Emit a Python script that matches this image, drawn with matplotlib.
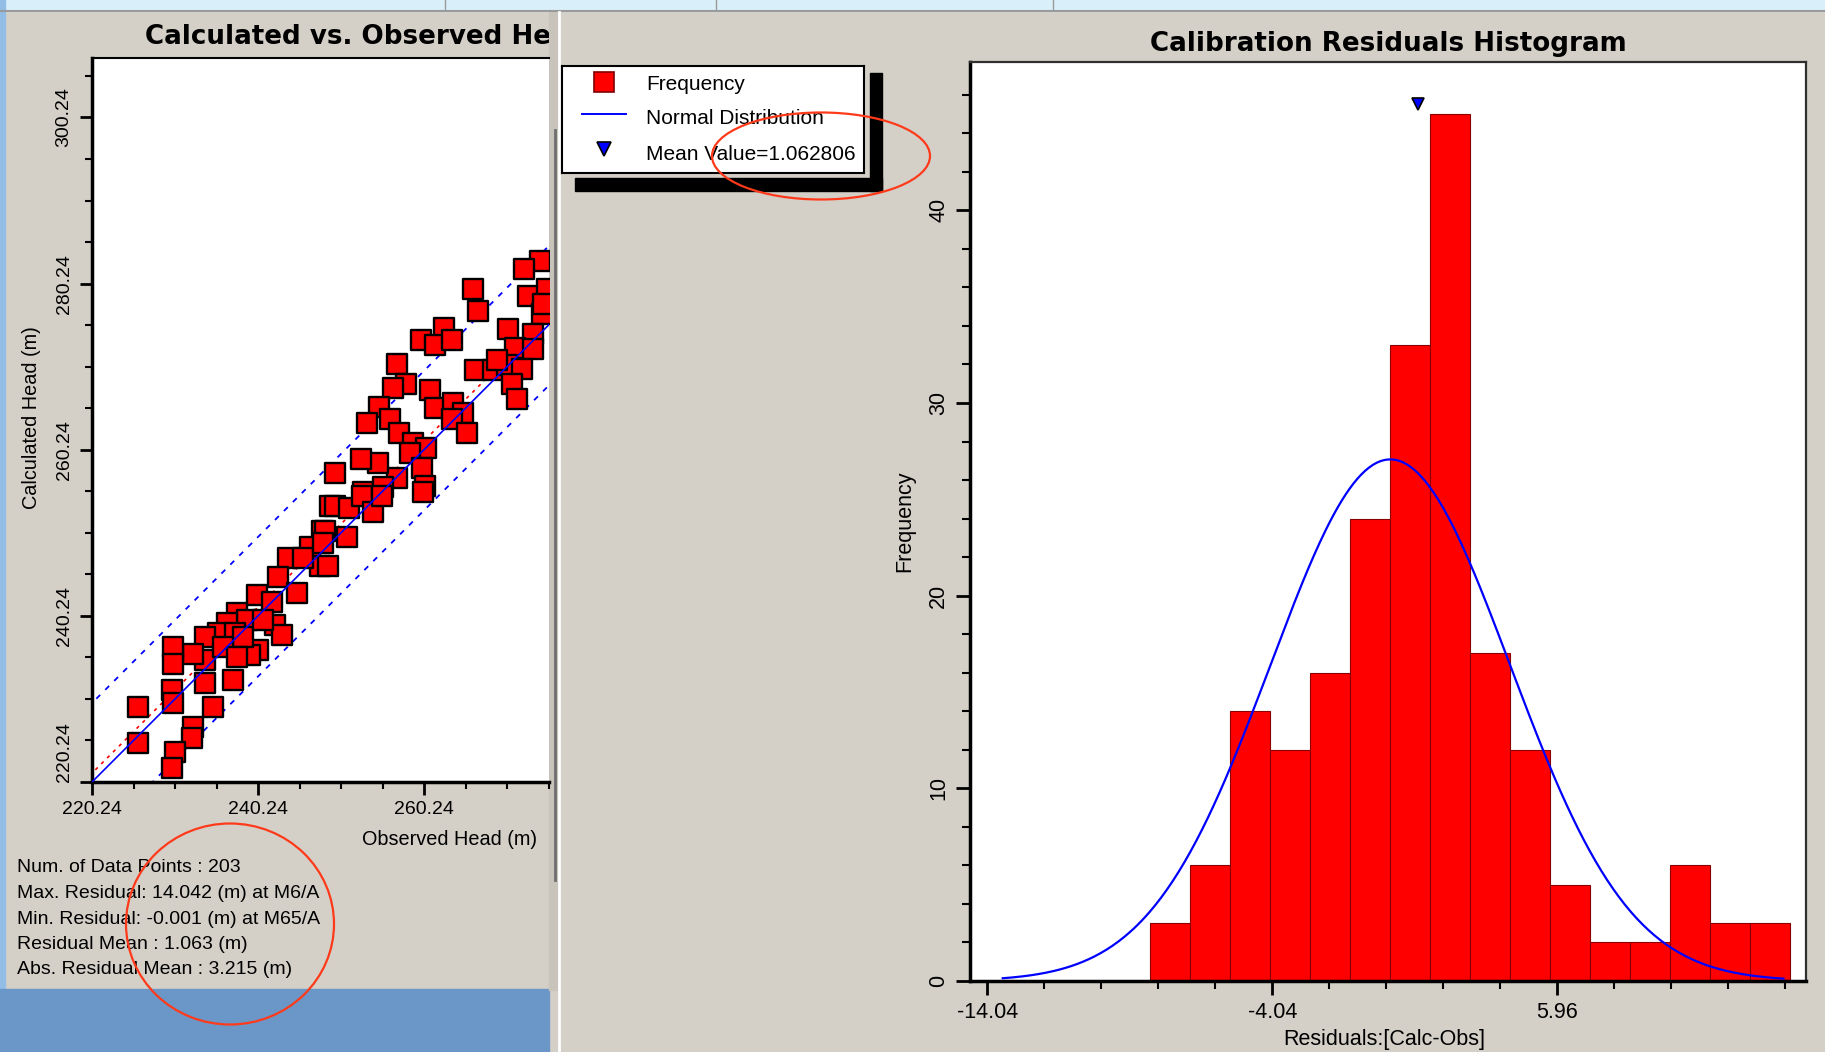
import numpy as np
import matplotlib
matplotlib.use("Agg")
import matplotlib.pyplot as plt
from matplotlib.patches import Rectangle, Ellipse
from matplotlib.ticker import FixedLocator

plt.rcParams['font.family'] = ['Liberation Sans', 'DejaVu Sans']

# ---- scatter data: observed vs calculated head (m)
obs = [274.2, 272.3, 266.1, 266.7, 262.6, 259.9, 261.6, 263.6, 270.4, 272.8,
       275.1, 274.5, 273.4, 271.2, 273.4, 266.4, 268.6, 270.2, 272.1, 270.8,
       271.4, 257.0, 258.1, 256.5, 254.8, 261.0, 261.6, 263.7, 264.9, 263.6,
       265.4, 256.1, 253.4, 257.2, 258.9, 260.5, 258.5, 260.0, 260.4, 257.0,
       254.7, 252.6, 249.5, 252.9, 255.3, 274.6, 269.0,
       248.9, 248.0, 246.5, 247.7, 243.9, 245.7, 242.7, 244.9, 240.1, 241.9,
       237.7, 238.9, 236.5, 235.4, 233.9, 237.5, 242.3, 243.1, 240.2, 239.3,
       233.9, 232.4, 230.0, 230.0, 237.2, 233.9, 229.9, 230.0, 234.8, 225.8,
       232.4, 232.3, 225.8, 230.2, 229.9, 238.4, 236.0, 237.7, 240.8,
       249.5, 251.2, 252.8, 254.1, 255.2, 260.1, 251.0, 248.3, 248.7, 248.1]
calc = [283.0, 282.0, 279.6, 277.0, 274.9, 273.5, 272.8, 273.5, 274.8, 278.8,
        279.6, 276.6, 274.2, 272.5, 272.4, 269.8, 269.8, 270.4, 270.0, 268.2,
        266.4, 270.6, 268.2, 267.7, 265.4, 267.4, 265.3, 265.9, 264.7, 264.0,
        262.2, 263.9, 263.4, 262.3, 261.1, 260.4, 259.8, 258.0, 255.9, 256.8,
        258.7, 259.1, 257.4, 255.1, 255.7, 277.8, 271.0,
        253.5, 250.5, 248.5, 246.3, 247.2, 247.2, 244.9, 243.0, 242.7, 241.9,
        240.6, 239.7, 239.4, 238.2, 237.7, 238.2, 239.1, 237.9, 236.1, 235.5,
        234.9, 235.7, 236.5, 234.5, 232.5, 232.1, 231.3, 229.7, 229.3, 229.3,
        226.9, 225.5, 224.9, 223.9, 221.9, 237.7, 236.5, 235.3, 239.7,
        253.5, 253.2, 254.7, 252.7, 254.7, 255.1, 249.7, 250.5, 246.3, 249.0]

# offsets of the reference lines (calc = obs + offset)
line_mean = 1.063
line_upper = 9.5
line_lower = -7.3

head_xticks = [220.24, 240.24, 260.24]
head_yticks = [220.24, 240.24, 260.24, 280.24, 300.24]
stats_lines = ["Num. of Data Points : 203",
               "Max. Residual: 14.042 (m) at M6/A",
               "Min. Residual: -0.001 (m) at M65/A",
               "Residual Mean : 1.063 (m)",
               "Abs. Residual Mean : 3.215 (m)"]

# ---- histogram data
bin_start = -8.32
bin_width = 1.404
counts = [3, 6, 14, 12, 16, 24, 33, 45, 17, 12, 5, 2, 2, 6, 3, 3]
n_points = 203
curve_mu, curve_sigma = 0.1, 4.2
curve_lo, curve_hi = -13.5, 13.9
mean_value = 1.062806
mean_marker_y = 45.5
resid_ticks = [-14.04, -4.04, 5.96]
freq_ticks = [0, 10, 20, 30, 40]

W, H = 1825, 1052
fig = plt.figure(figsize=(W / 100, H / 100), dpi=100)


def px_axes(x0, y0, x1, y1, **kw):
    return fig.add_axes([x0 / W, 1 - y1 / H, (x1 - x0) / W, (y1 - y0) / H], **kw)


# ---- window background
panel = '#d4d0c8'
bg = px_axes(0, 0, W, H)
bg.set_xlim(0, W)
bg.set_ylim(H, 0)
bg.axis('off')
bg.add_patch(Rectangle((0, 0), W, H, color=panel))
bg.add_patch(Rectangle((0, 0), W, 11, color='#d9eff9'))
bg.plot([0, W], [11, 11], color='#9a9a9a', lw=1.5)
for xv in [445, 716, 1053]:
    bg.plot([xv, xv], [0, 10], color='#9a9a9a', lw=1)
bg.add_patch(Rectangle((0, 0), 5, H, color='#92bde6'))
bg.add_patch(Rectangle((0, 989), 549, H - 989, color='#6b96c8'))
bg.add_patch(Rectangle((549, 12), 8, 978, color='#c8c4bc'))
bg.plot([555, 555], [130, 880], color='#6e6e6e', lw=2)
bg.plot([559, 559], [12, H], color='white', lw=2)

t = bg.text(145, 37, "Calculated vs. Observed Head", fontsize=18.8,
            fontweight='bold', family='DejaVu Sans', ha='left', va='center',
            clip_on=True)
t.set_clip_path(Rectangle((0, 0), 549, H, transform=bg.transData))

for i, s in enumerate(stats_lines):
    bg.text(17, 868 + i * 25.5, s, fontsize=14, ha='left', va='center')

# legend shadow
bg.add_patch(Rectangle((870, 73), 12, 118, color='black'))
bg.add_patch(Rectangle((575, 178), 307, 13, color='black'))

# ---- scatter plot
ax = px_axes(92, 58, 549, 782)
ax.set_facecolor('white')
xx = np.array([210.0, 320.0])
ax.plot(xx, xx + line_upper, color='blue', lw=1.3, dashes=(3, 4), zorder=1)
ax.plot(xx, xx + line_lower, color='blue', lw=1.3, dashes=(3, 4), zorder=1)
ax.plot(xx, xx + line_mean, color='red', lw=1.2, dashes=(2, 3), zorder=1)
ax.scatter(obs, calc, marker='s', s=190, c='red', edgecolors='black',
           linewidths=1.7, zorder=2)
ax.plot(xx, xx, color='blue', lw=1.2, zorder=3)
ax.spines['right'].set_visible(False)
ax.spines['left'].set_linewidth(2.5)
ax.spines['bottom'].set_linewidth(2.5)
ax.spines['top'].set_linewidth(1.5)
ax.set_xticks(head_xticks)
ax.set_yticks(head_yticks)
ax.set_xticklabels([f"{v:.2f}" for v in head_xticks], fontsize=14)
ax.set_yticklabels([f"{v:.2f}" for v in head_yticks], fontsize=14,
                   rotation=90, va='center')
ax.get_yticklabels()[0].set_va('bottom')
ax.xaxis.set_minor_locator(FixedLocator(np.arange(220.24, 276, 5)))
ax.yaxis.set_minor_locator(FixedLocator(np.arange(220.24, 308, 5)))
ax.tick_params(which='major', direction='out', length=9, width=2, pad=5)
ax.tick_params(which='minor', direction='out', length=5, width=1.5)
ax.set_xlim(220.24, 275.3)
ax.set_ylim(220.24, 307.4)
ax.set_ylabel("Calculated Head (m)", fontsize=14.3)
ax.yaxis.set_label_coords(-0.112, 0.504)
ax.set_xlabel("Observed Head (m)", fontsize=14.3, ha='right')
ax.xaxis.set_label_coords(0.974, -0.066)

# ---- histogram
hx = px_axes(970, 62, 1806, 981)
hx.set_facecolor('white')
lefts = bin_start + bin_width * np.arange(len(counts))
hx.bar(lefts, counts, width=bin_width, align='edge', color='#ff0000',
       edgecolor='#8a0000', linewidth=0.8, zorder=2)
xc = np.linspace(curve_lo, curve_hi, 400)
peak = n_points * bin_width / (curve_sigma * np.sqrt(2 * np.pi))
hx.plot(xc, peak * np.exp(-0.5 * ((xc - curve_mu) / curve_sigma) ** 2),
        color='blue', lw=1.6, zorder=3)
hx.plot([mean_value], [mean_marker_y], marker='v', ms=9, mfc='blue',
        mec='black', mew=1.2, ls='none', zorder=4, clip_on=False)
for side in ['left', 'bottom']:
    hx.spines[side].set_linewidth(2.5)
for side in ['top', 'right']:
    hx.spines[side].set_linewidth(1.6)
    hx.spines[side].set_color('#303030')
hx.set_xticks(resid_ticks)
hx.set_xticklabels([f"{v:.2f}" for v in resid_ticks], fontsize=15.5)
hx.set_yticks(freq_ticks)
hx.set_yticklabels([str(v) for v in freq_ticks], fontsize=15.5, rotation=90,
                   va='center')
hx.xaxis.set_minor_locator(FixedLocator(np.arange(-14.04, 14.0, 2)))
hx.yaxis.set_minor_locator(FixedLocator(np.arange(0, 47, 2)))
hx.tick_params(which='major', direction='out', length=10, width=2, pad=5)
hx.tick_params(which='minor', direction='out', length=5.5, width=1.5)
hx.set_xlim(-14.65, 14.69)
hx.set_ylim(0, 47.7)
hx.set_title("Calibration Residuals Histogram", fontsize=18.8,
             fontweight='bold', family='DejaVu Sans', pad=8)
hx.set_ylabel("Frequency", fontsize=15.5)
hx.yaxis.set_label_coords(-0.066, 0.5)
hx.set_xlabel("Residuals:[Calc-Obs]", fontsize=15.5)
hx.xaxis.set_label_coords(0.496, -0.052)

# ---- legend box
lg = px_axes(562, 66, 864, 173)
lg.set_facecolor('white')
lg.set_xlim(0, 302)
lg.set_ylim(107, 0)
lg.set_xticks([])
lg.set_yticks([])
for sp in lg.spines.values():
    sp.set_linewidth(1.5)
lg.plot([42], [16], marker='s', ms=14, mfc='red', mec='#800000', mew=1.2)
lg.plot([20, 64], [48, 48], color='blue', lw=1.4)
lg.plot([42], [83], marker='v', ms=10, mfc='blue', mec='black', mew=1.2)
for yv, s in zip([18, 53, 88], ["Frequency", "Normal Distribution",
                                f"Mean Value={mean_value:.6f}"]):
    lg.text(84, yv, s, fontsize=15, ha='left', va='center')

# ---- hand-drawn annotation circles
ov = px_axes(0, 0, W, H)
ov.set_xlim(0, W)
ov.set_ylim(H, 0)
ov.axis('off')
ov.patch.set_alpha(0)
ov.add_patch(Ellipse((821, 156), 218, 87, fill=False, ec='#ff3a1a', lw=1.6))
ov.add_patch(Ellipse((230, 924), 208, 201, fill=False, ec='#ff3a1a', lw=1.6))

fig.savefig("out.png", dpi=100)
